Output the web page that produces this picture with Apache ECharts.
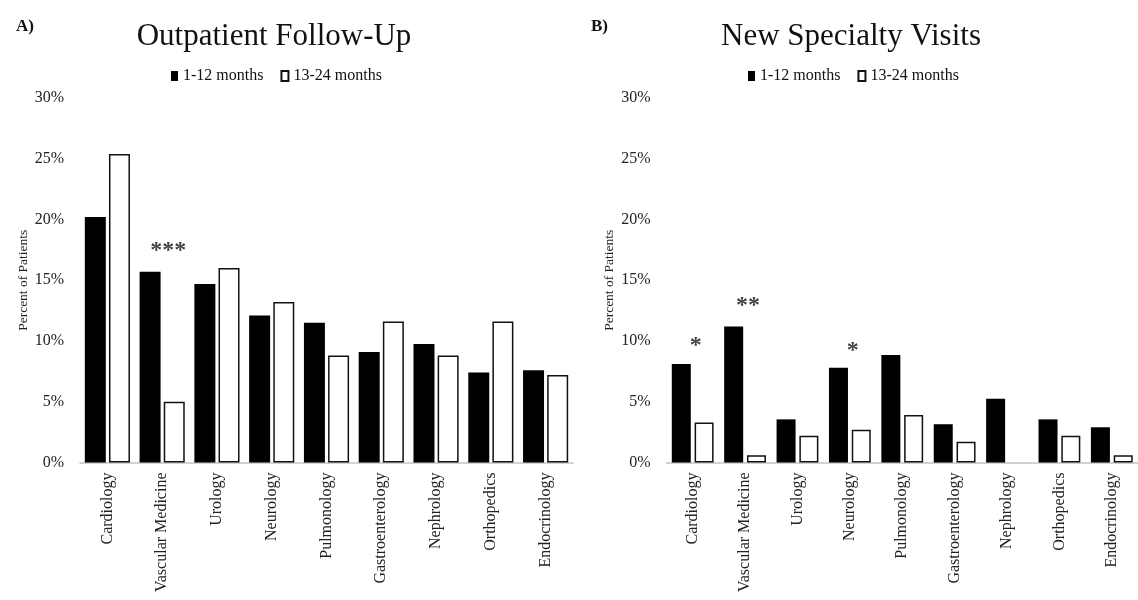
<!DOCTYPE html>
<html>
<head>
<meta charset="utf-8">
<script src="https://cdn.jsdelivr.net/npm/echarts@6/dist/echarts.min.js"></script>
<style>
html,body{margin:0;padding:0;background:#fff;}
#chart{width:1138px;height:600px;}
</style>
</head>
<body>
<div id="chart"></div>
<script>
const categories = ['Cardiology','Vascular Medicine','Urology','Neurology','Pulmonology','Gastroenterology','Nephrology','Orthopedics','Endocrinology'];
const seriesNames = ['1-12 months','13-24 months'];
const followUp_1_12  = [20.2, 15.7, 14.7, 12.1, 11.5, 9.1, 9.75, 7.4, 7.6];
const followUp_13_24 = [25.4, 5.0, 16.0, 13.2, 8.8, 11.6, 8.8, 11.6, 7.2];
const newVisits_1_12  = [8.1, 11.2, 3.55, 7.8, 8.85, 3.15, 5.25, 3.55, 2.9];
const newVisits_13_24 = [3.3, 0.6, 2.2, 2.7, 3.9, 1.7, 0, 2.2, 0.6];
const yTickMin = 0, yTickMax = 30, yTickStep = 5;
// significance markers: [category, y (percent), text]
const followUpSig  = [['Vascular Medicine', 17.8, '***']];
const newVisitsSig = [['Cardiology', 10.0, '*'], ['Vascular Medicine', 13.3, '**'], ['Neurology', 9.6, '*']];

const FONT = '"Liberation Serif", "Times New Roman", serif';

function yAxis(gi){
  return {
    gridIndex: gi, type: 'value', min: yTickMin, max: yTickMax, interval: yTickStep,
    name: 'Percent of Patients', nameLocation: 'middle', nameGap: 50,
    nameTextStyle: {fontFamily: FONT, fontSize: 13.5, color: '#222'},
    axisLine: {show: false}, axisTick: {show: false}, splitLine: {show: false},
    axisLabel: {formatter: '{value}%', fontFamily: FONT, fontSize: 16, color: '#222', margin: 16}
  };
}
function xAxis(gi){
  return {
    gridIndex: gi, type: 'category', data: categories,
    axisLine: {lineStyle: {color: '#c4c4c4', width: 1.5}}, axisTick: {show: false},
    axisLabel: {rotate: 90, interval: 0, fontFamily: FONT, fontSize: 16, color: '#222', margin: 10}
  };
}
// a value of 0 draws no bar (as in the reference)
const shown = arr => arr.map(v => v === 0 ? '-' : v);
function bars(gi, d1, d2, bw, gap){
  return [
    {name: seriesNames[0], type: 'bar', xAxisIndex: gi, yAxisIndex: gi, data: shown(d1),
     barWidth: bw, barGap: gap, itemStyle: {color: '#000'}},
    {name: seriesNames[1], type: 'bar', xAxisIndex: gi, yAxisIndex: gi, data: shown(d2),
     barWidth: bw, barGap: gap, itemStyle: {color: '#fff', borderColor: '#111', borderWidth: 1.5}}
  ];
}
function sig(gi, marks, dx){
  return {
    type: 'scatter', xAxisIndex: gi, yAxisIndex: gi, symbolSize: 1,
    itemStyle: {color: 'rgba(0,0,0,0)'}, silent: true,
    data: marks.map(m => [m[0], m[1], m[2]]),
    label: {show: true, position: 'inside', formatter: p => p.data[2],
      fontFamily: FONT, fontSize: 24, fontWeight: 'bold', color: '#111', offset: [dx, 5]}
  };
}

const chart = echarts.init(document.getElementById('chart'), null, {renderer: 'canvas'});
chart.setOption({
  animation: false,
  backgroundColor: '#fff',
  title: [
    {text: 'Outpatient Follow-Up', left: 269, top: 16, textAlign: 'center',
     textStyle: {fontFamily: FONT, fontSize: 31, fontWeight: 'normal', color: '#111'}},
    {text: 'New Specialty Visits', left: 846, top: 16, textAlign: 'center',
     textStyle: {fontFamily: FONT, fontSize: 31, fontWeight: 'normal', color: '#111'}},
    {text: 'A)', left: 11, top: 13, textStyle: {fontFamily: FONT, fontSize: 17, fontWeight: 'bold', color: '#111'}},
    {text: 'B)', left: 586, top: 13, textStyle: {fontFamily: FONT, fontSize: 17, fontWeight: 'bold', color: '#111'}}
  ],
  legend: [
    {data: seriesNames, left: 166, top: 63, icon: 'rect', itemWidth: 7, itemHeight: 10, itemGap: 17,
     textStyle: {fontFamily: FONT, fontSize: 16, color: '#111'}},
    {data: seriesNames, left: 743, top: 63, icon: 'rect', itemWidth: 7, itemHeight: 10, itemGap: 17,
     textStyle: {fontFamily: FONT, fontSize: 16, color: '#111'}}
  ],
  grid: [
    {left: 80, top: 98, width: 493, height: 364.5},
    {left: 666.5, top: 98, width: 474, height: 364.5}
  ],
  xAxis: [xAxis(0), xAxis(1)],
  yAxis: [yAxis(0), yAxis(1)],
  series: [
    ...bars(0, followUp_1_12, followUp_13_24, 21, '15%'),
    ...bars(1, newVisits_1_12, newVisits_13_24, 19, '20%'),
    sig(0, followUpSig, 6),
    sig(1, newVisitsSig, 3)
  ]
});
</script>
</body>
</html>
